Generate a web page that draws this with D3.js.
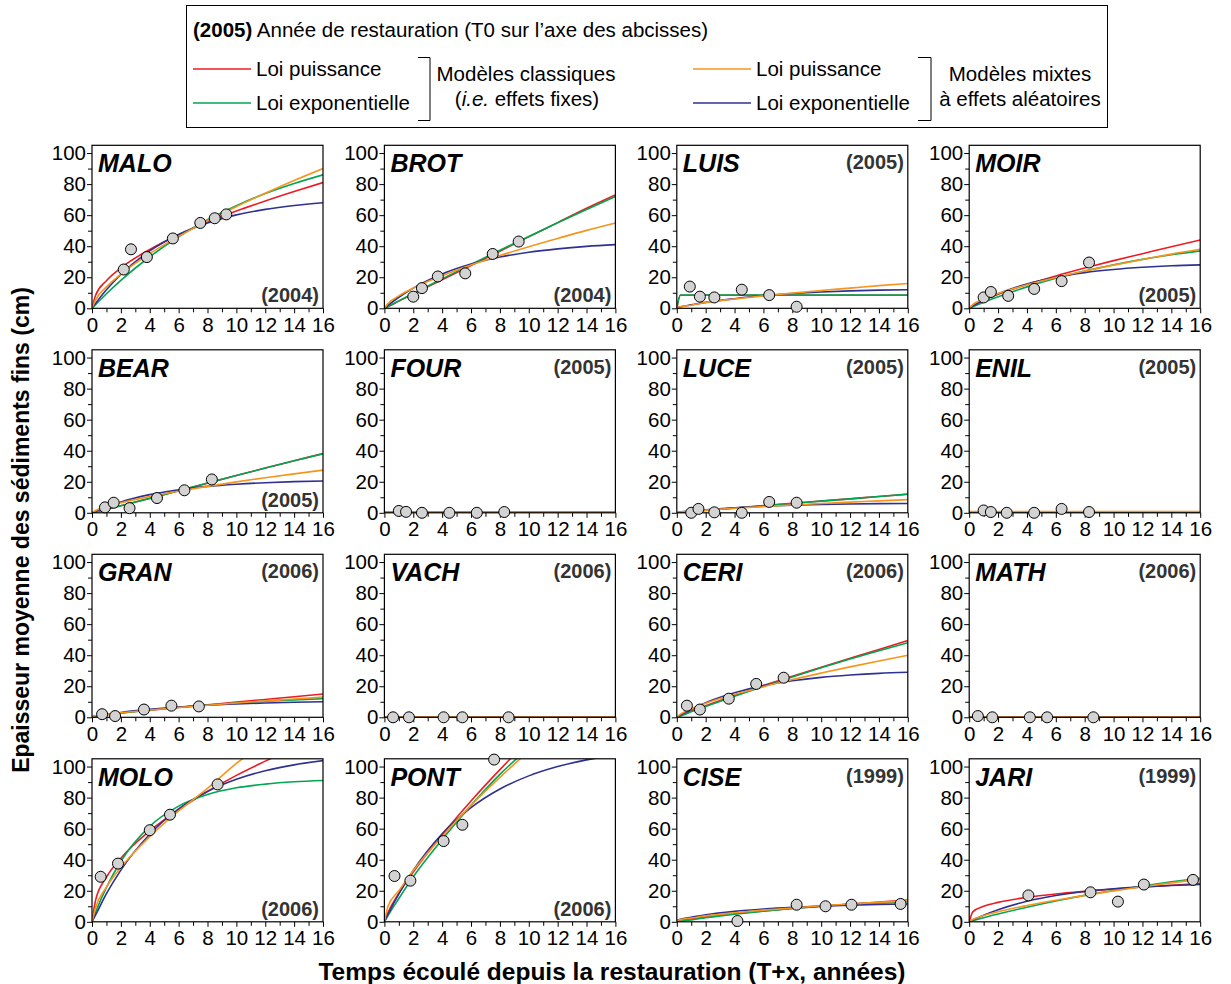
<!DOCTYPE html>
<html><head><meta charset="utf-8">
<script src="https://cdn.jsdelivr.net/npm/d3@7"></script>
<style>
body{margin:0;background:#fff;}
svg{display:block;font-family:"Liberation Sans",Arial,sans-serif;}
</style></head>
<body><svg id="c" width="1231" height="984"></svg>
<script>
// ---------- DATA ----------
const sites = ["MALO","BROT","LUIS","MOIR","BEAR","FOUR","LUCE","ENIL","GRAN","VACH","CERI","MATH","MOLO","PONT","CISE","JARI"];
const years = ["(2004)","(2004)","(2005)","(2005)","(2005)","(2005)","(2005)","(2005)","(2006)","(2006)","(2006)","(2006)","(2006)","(2006)","(1999)","(1999)"];
const yearAtBottom = [true,true,false,true,true,false,false,false,false,false,false,false,true,true,false,false];

const obsX = [
  [2.2,2.7,3.8,5.6,7.5,8.5,9.3],
  [2.0,2.6,3.7,5.6,7.5,9.3],
  [0.9,1.6,2.6,4.5,6.4,8.3],
  [1.0,1.5,2.7,4.5,6.4,8.3],
  [0.9,1.5,2.6,4.5,6.4,8.3],
  [1.0,1.5,2.6,4.5,6.4,8.3],
  [1.0,1.5,2.6,4.5,6.4,8.3],
  [1.0,1.5,2.6,4.5,6.4,8.3],
  [0.7,1.6,3.6,5.5,7.4],
  [0.6,1.7,4.1,5.4,8.6],
  [0.7,1.6,3.6,5.5,7.4],
  [0.6,1.6,4.2,5.4,8.6],
  [0.6,1.8,4.0,5.4,8.7],
  [0.7,1.8,4.1,5.4,7.6],
  [4.2,8.3,10.3,12.1,15.5],
  [4.1,8.4,10.3,12.1,15.5]
];
const obsY = [
  [25,38,33,45,55,58,60.5],
  [7.5,13,20.5,22.5,35,43],
  [14,7.5,7,12,8.5,1],
  [7,10.5,8,12.5,17.5,29.5],
  [3.5,6.5,3,9.5,14.5,21.5],
  [1.2,0.6,0,0,0,0.5],
  [0,2.5,0.3,0,7,6.5],
  [1.5,0.5,0,0,2.5,0.5],
  [2,0.8,5,7.5,7],
  [0,0,0,0,0],
  [7.5,5,12,21.5,25.5],
  [0.8,0,0,0,0],
  [29,37.5,59,69,88.5],
  [29.5,26.5,52,62.5,104.5],
  [0.5,11,10,11,11.5],
  [17,19,13,24,27]
];

const curveX = [0,0.25,1,2,4,6,8,10,12,14,16];

// Loi puissance – modèles classiques (red)
const powerFixed = [
  [0,8.4,17.8,26,37.9,47.4,55.4,62.6,69.1,75.2,81],
  [0,1.1,4.6,9.2,18.4,27.6,36.8,46,55.2,64.4,73],
  [0,8.4,8.4,8.4,8.4,8.4,8.4,8.4,8.4,8.4,8.4],
  [0,1.8,5.3,9,15.3,20.8,25.9,30.7,35.2,39.7,44],
  [0,0.5,2.2,4.5,9.3,14.2,19.1,24,28.8,33.5,38.2],
  [0.2,0.2,0.2,0.2,0.2,0.2,0.2,0.2,0.2,0.2,0.2],
  [0,0.3,0.9,1.6,3.1,4.6,6.1,7.6,9,10.5,11.9],
  [0.6,0.6,0.6,0.6,0.6,0.6,0.6,0.6,0.6,0.6,0.6],
  [0.5,1,1.8,2.8,4.6,6.3,8,9.8,11.5,13.2,15],
  [0.1,0.1,0.1,0.1,0.1,0.1,0.1,0.1,0.1,0.1,0.1],
  [0,1.1,4,7.5,14.1,20.4,26.4,32.3,38,43.7,49.5],
  [0.1,0.1,0.1,0.1,0.1,0.1,0.1,0.1,0.1,0.1,0.1],
  [0,14,28.7,41,58.6,72.2,83.9,94.3,103.5,112,120],
  [0,6,18.3,32,56,77.8,98,117,135,152,169],
  [0.8,1.2,2,3.2,5.2,7,8.6,10,11.4,12.7,14],
  [0,6.4,10,12.5,15.7,17.9,19.6,21.1,22.4,23.5,24.6]
];
// Loi exponentielle – modèles classiques (green)
const expFixed = [
  [0,2.4,9.4,18,33.2,46.1,57,66.1,73.9,80.4,86],
  [0,1.2,4.8,9.6,19,28.3,37.4,46.3,55.1,63.7,72],
  [0,8.5,8.5,8.5,8.5,8.5,8.5,8.5,8.5,8.5,8.5],
  [0,1,3.9,7.4,13.8,19.3,24,28,31.5,34.5,37],
  [0,0.6,2.3,4.6,9.3,14.2,19.2,24,28.8,33.5,38],
  [0.2,0.2,0.2,0.2,0.2,0.2,0.2,0.2,0.2,0.2,0.2],
  [0,0.2,0.75,1.5,3,4.5,6,7.5,9,10.5,12],
  [0.6,0.6,0.6,0.6,0.6,0.6,0.6,0.6,0.6,0.6,0.6],
  [0,0.5,1.6,2.8,4.8,6.5,7.9,9.2,10.3,11.2,12],
  [0.1,0.1,0.1,0.1,0.1,0.1,0.1,0.1,0.1,0.1,0.1],
  [0,0.9,3.5,6.9,13.6,19.9,26,31.9,37.5,42.9,48],
  [0.1,0.1,0.1,0.1,0.1,0.1,0.1,0.1,0.1,0.1,0.1],
  [0,6.2,22.2,39,61.5,74.5,82,86.3,88.7,90.2,91],
  [0,4,15,29,53,75,95,112,128,142,155],
  [0,0.3,1.2,2.6,4.9,6.9,8.6,10,11.3,12.2,13],
  [0,0.65,2.6,5,9.4,13.4,17,20.2,23.1,25.7,28]
];
// Loi puissance – modèles mixtes (orange)
const powerMixed = [
  [0,5.4,13.8,22,35.2,46.3,56.4,65.5,74.1,82.3,90],
  [0,3.1,8,13,21,27.9,34,39.7,45,50.2,55],
  [0.5,1,2,3.8,6,8,9.8,11.5,13,14.6,16],
  [0,2.4,6,9.5,15.1,19.8,24,27.8,31.4,34.9,38],
  [0,1.5,4,6.5,10.5,13.9,17,19.9,22.6,25.1,27.5],
  [0.4,0.4,0.4,0.4,0.4,0.4,0.4,0.4,0.4,0.4,0.4],
  [0,0.5,1,1.7,2.9,4,5,6,6.9,7.7,8.5],
  [0.8,0.8,0.8,0.8,0.8,0.8,0.8,0.8,0.8,0.8,0.8],
  [0.5,1,1.9,2.9,4.7,6.3,7.8,9.2,10.6,11.8,13],
  [0.2,0.2,0.2,0.2,0.2,0.2,0.2,0.2,0.2,0.2,0.2],
  [0,2,5.5,9,14.8,19.7,24.3,28.5,32.5,36.3,40],
  [0.2,0.2,0.2,0.2,0.2,0.2,0.2,0.2,0.2,0.2,0.2],
  [0,9.1,22.3,35,54.9,71.4,86,102,116,130,143],
  [0,10,20,33,55,75,93,110,126,141,156],
  [0.8,1.4,2.4,3.8,5.8,7.5,8.9,10.3,11.5,12.5,13.5],
  [0,1.5,4,6.5,10.5,13.9,17,19.9,22.6,25.1,27.5]
];
// Loi exponentielle – modèles mixtes (blue)
const expMixed = [
  [0,3.2,11.9,21.8,37,47.6,55,60.2,63.7,66.2,68],
  [0,1.9,7.1,13,22.1,28.5,33,36.1,38.3,39.9,41],
  [0.5,1,2.2,3.8,6.2,8.2,9.5,10.5,11.2,11.7,12],
  [0,1.4,5.1,9.3,15.7,20,23,25,26.4,27.4,28],
  [0,1,3.8,7,11.7,14.9,17,18.4,19.4,20.1,20.5],
  [0.3,0.3,0.3,0.3,0.3,0.3,0.3,0.3,0.3,0.3,0.3],
  [0,0.5,1.1,1.9,3.2,4.2,4.9,5.4,5.7,5.9,6],
  [0.7,0.7,0.7,0.7,0.7,0.7,0.7,0.7,0.7,0.7,0.7],
  [0,0.6,1.8,3.1,5.1,6.6,7.8,8.6,9.2,9.7,10],
  [0.1,0.1,0.1,0.1,0.1,0.1,0.1,0.1,0.1,0.1,0.1],
  [0,1.4,5.1,9.4,15.8,20.4,23.5,25.7,27.2,28.3,29],
  [0.1,0.1,0.1,0.1,0.1,0.1,0.1,0.1,0.1,0.1,0.1],
  [0,4.4,18.1,33.3,56.4,72.7,84,91.8,97.3,101.1,103.8],
  [0,4.8,18,33.1,56.7,73.5,85.5,94,100,104.3,107.4],
  [0.8,1.6,2.9,4.5,6.7,8.2,9.3,10.1,10.7,11.2,11.5],
  [0,1.1,4.2,7.8,13.2,16.9,19.5,21.3,22.5,23.4,24]
];

const xTicks = [0,2,4,6,8,10,12,14,16];
const xMinorTicks = [1,3,5,7,9,11,13,15];
const yTicks = [0,20,40,60,80,100];
const yMinorTicks = [10,30,50,70,90];

const legendYearText = "(2005)";
const legendYearDesc = "Année de restauration (T0 sur l’axe des abcisses)";
const legendLabels = ["Loi puissance","Loi exponentielle"];
const yTitle = "Epaisseur moyenne des sédiments fins (cm)";
const xTitle = "Temps écoulé depuis la restauration (T+x, années)";

// ---------- LAYOUT / STYLE ----------
const COL = {red:"#ed1c24", green:"#00a651", orange:"#f7941d", blue:"#2e3192"};
const svg = d3.select("#c");
const W = 231, H = 163;
const left0 = 92, colStep = 292.4, top0 = 145.3, rowStep = 204.5;
const TICKFONT = 20.5, LEGFONT = 20.5;

const x = d3.scaleLinear().domain([0,16]).range([0,W]);
const y = d3.scaleLinear().domain([0,105]).range([H,0]);

svg.append("defs").append("clipPath").attr("id","plotclip")
  .append("rect").attr("x",0).attr("y",0).attr("width",W).attr("height",H);

const line = d3.line().x(d=>x(d[0])).y(d=>y(d[1])).curve(d3.curveMonotoneX);

sites.forEach((name,i)=>{
  const col = i%4, row = Math.floor(i/4);
  const g = svg.append("g").attr("transform",`translate(${left0+col*colStep},${top0+row*rowStep})`);

  // axes
  const ax = g.append("g").attr("transform",`translate(0,${H})`)
    .call(d3.axisBottom(x).tickValues(xTicks).tickSize(5).tickPadding(4).tickFormat(d3.format("d")));
  ax.select(".domain").remove();
  ax.selectAll("text").attr("font-size",TICKFONT).attr("font-family","Liberation Sans, Arial, sans-serif").attr("fill","#000");
  const axm = g.append("g").attr("transform",`translate(0,${H})`)
    .call(d3.axisBottom(x).tickValues(xMinorTicks).tickSize(4).tickFormat(""));
  axm.select(".domain").remove();

  const ay = g.append("g").call(d3.axisLeft(y).tickValues(yTicks).tickSize(5).tickPadding(1));
  ay.select(".domain").remove();
  ay.selectAll("text").attr("font-size",TICKFONT).attr("font-family","Liberation Sans, Arial, sans-serif").attr("fill","#000");
  const aym = g.append("g").call(d3.axisLeft(y).tickValues(yMinorTicks).tickSize(4).tickFormat(""));
  aym.select(".domain").remove();

  // curves
  const cg = g.append("g").attr("clip-path","url(#plotclip)");
  [[powerFixed,COL.red],[expFixed,COL.green],[expMixed,COL.blue],[powerMixed,COL.orange]].forEach(([arr,c])=>{
    const pts = curveX.map((xv,k)=>[xv,arr[i][k]]);
    cg.append("path").attr("d",line(pts)).attr("fill","none").attr("stroke",c).attr("stroke-width",1.6);
  });

  // box
  g.append("rect").attr("x",0).attr("y",0).attr("width",W).attr("height",H)
    .attr("fill","none").attr("stroke","#000").attr("stroke-width",1.2);

  // observations
  g.selectAll("circle.obs").data(obsX[i].map((xv,k)=>[xv,obsY[i][k]])).join("circle")
    .attr("class","obs").attr("cx",d=>x(d[0])).attr("cy",d=>y(d[1])).attr("r",5.5)
    .attr("fill","#d3d3d3").attr("stroke","#000").attr("stroke-width",1);

  // labels
  g.append("text").attr("x",6).attr("y",27).text(name)
    .attr("font-size",25).attr("font-weight","bold").attr("font-style","italic");
  g.append("text").attr("x",W-4).attr("y",yearAtBottom[i]?H-6:24).attr("text-anchor","end")
    .text(years[i]).attr("font-size",20).attr("font-weight","bold").attr("fill","#333");
});

// axis titles
svg.append("text").attr("transform","translate(29,530) rotate(-90)").attr("text-anchor","middle")
  .attr("font-size",23).attr("font-weight","bold").text(yTitle);
svg.append("text").attr("x",612).attr("y",980).attr("text-anchor","middle")
  .attr("font-size",24.5).attr("font-weight","bold").text(xTitle);

// legend
const lg = svg.append("g");
lg.append("rect").attr("x",186.5).attr("y",5.5).attr("width",921).attr("height",122)
  .attr("fill","#fff").attr("stroke","#000").attr("stroke-width",1);
const t0 = lg.append("text").attr("x",193).attr("y",37).attr("font-size",LEGFONT);
t0.append("tspan").attr("font-weight","bold").text(legendYearText);
t0.append("tspan").text(" "+legendYearDesc);

const legRows = [
  {x:193, y:69, c:COL.red, t:legendLabels[0]},
  {x:193, y:103, c:COL.green, t:legendLabels[1]},
  {x:693, y:69, c:COL.orange, t:legendLabels[0]},
  {x:693, y:103, c:COL.blue, t:legendLabels[1]}
];
legRows.forEach(r=>{
  lg.append("line").attr("x1",r.x).attr("x2",r.x+58).attr("y1",r.y).attr("y2",r.y)
    .attr("stroke",r.c).attr("stroke-width",1.6);
  lg.append("text").attr("x",r.x+63).attr("y",r.y+7).attr("font-size",LEGFONT).text(r.t);
});
[[418,430],[918,931]].forEach(([a,b])=>{
  lg.append("path").attr("d",`M${a},57.5H${b}V120.5H${a}`).attr("fill","none").attr("stroke","#000").attr("stroke-width",1);
});
lg.append("text").attr("x",526).attr("y",81).attr("text-anchor","middle").attr("font-size",LEGFONT).text("Modèles classiques");
const t2 = lg.append("text").attr("x",527).attr("y",106).attr("text-anchor","middle").attr("font-size",LEGFONT);
t2.append("tspan").text("(");
t2.append("tspan").attr("font-style","italic").text("i.e.");
t2.append("tspan").text(" effets fixes)");
lg.append("text").attr("x",1020).attr("y",81).attr("text-anchor","middle").attr("font-size",LEGFONT).text("Modèles mixtes");
lg.append("text").attr("x",1020).attr("y",106).attr("text-anchor","middle").attr("font-size",LEGFONT).text("à effets aléatoires");
</script></body></html>
